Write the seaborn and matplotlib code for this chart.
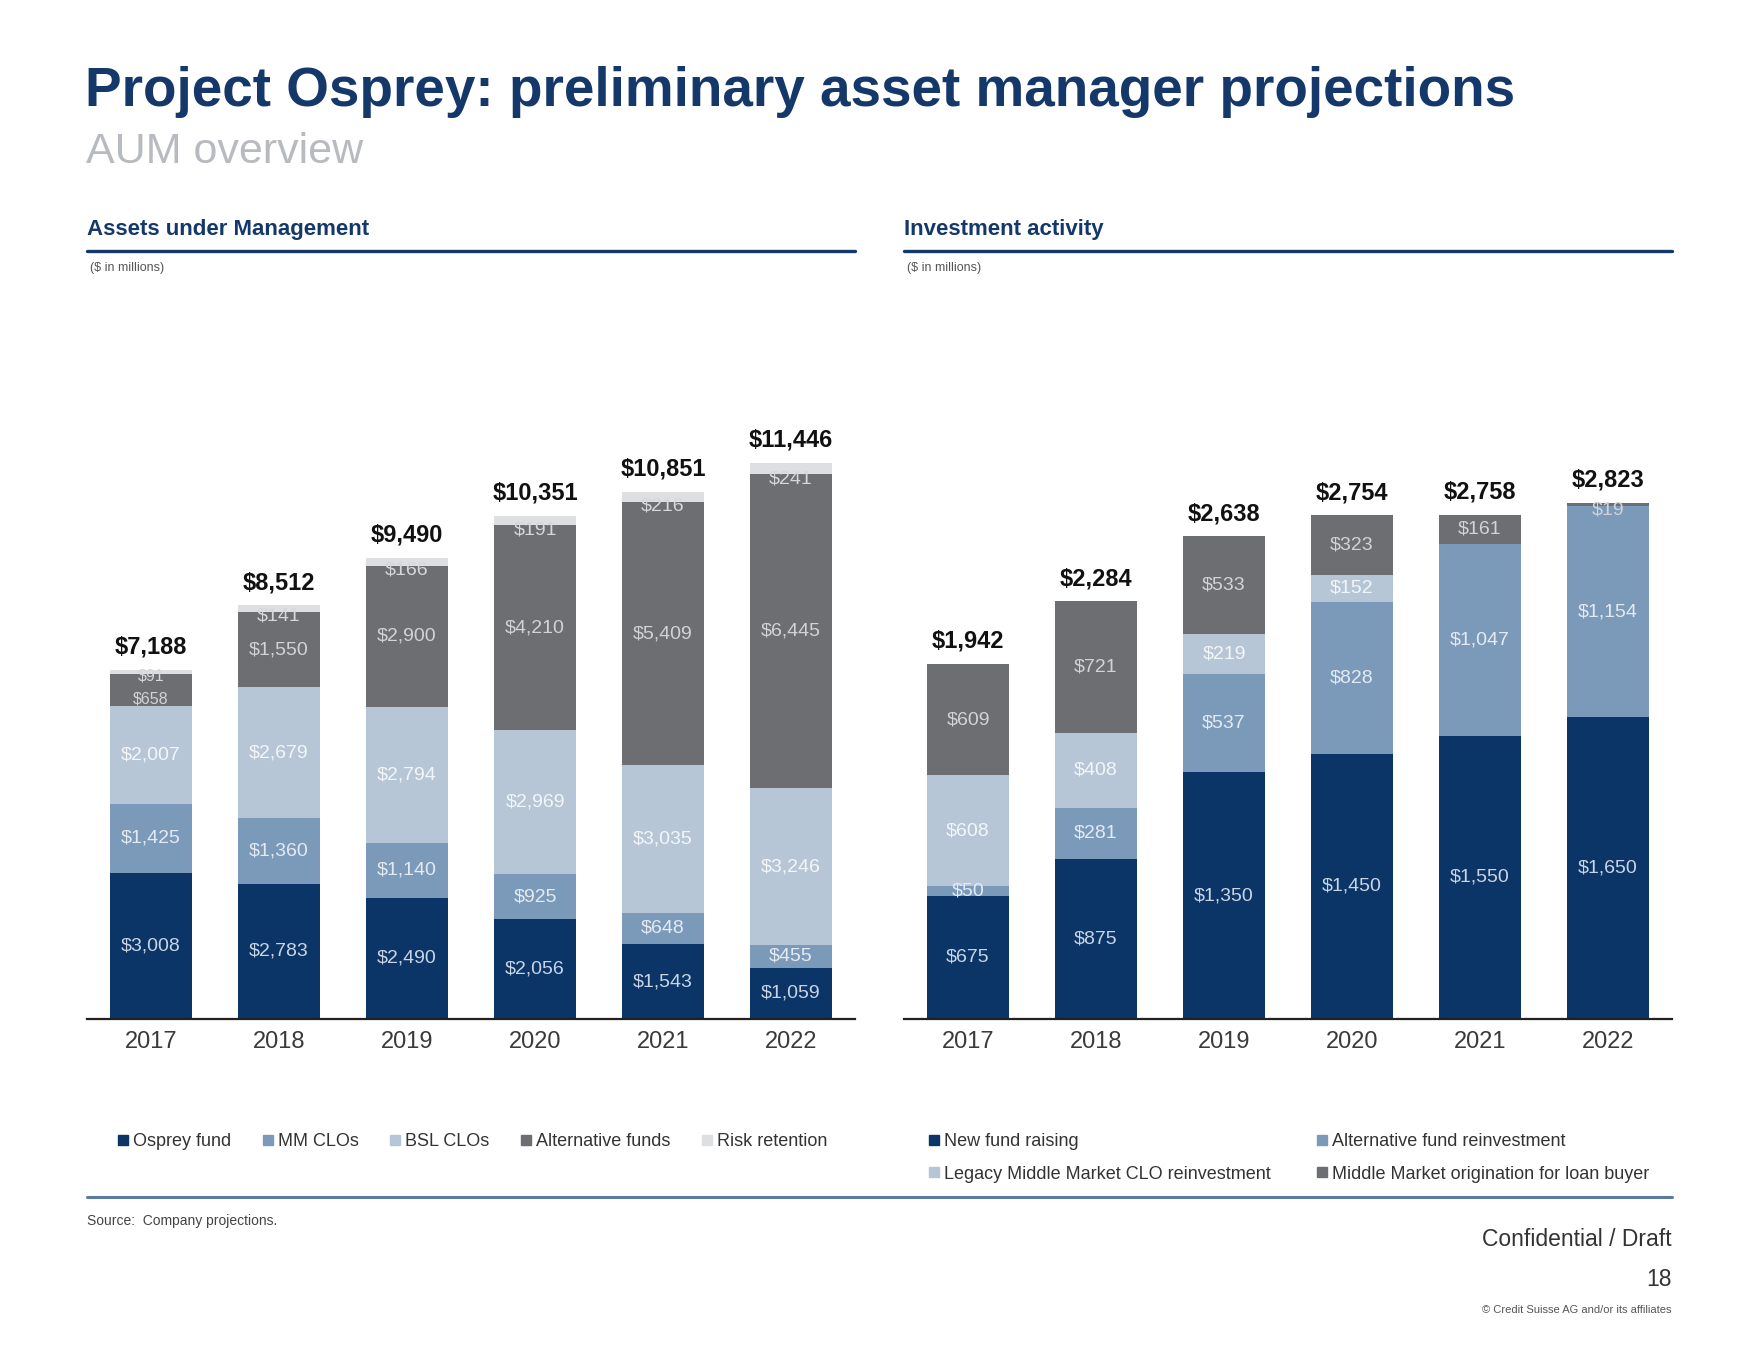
import matplotlib
matplotlib.use('Agg')

import numpy as np
import pandas as pd
import seaborn as sns
import matplotlib.pyplot as plt
from matplotlib.lines import Line2D

# --- data -------------------------------------------------------------
years = ['2017', '2018', '2019', '2020', '2021', '2022']

# Assets under Management ($ in millions)
osprey_fund = [3008, 2783, 2490, 2056, 1543, 1059]
mm_clos = [1425, 1360, 1140, 925, 648, 455]
bsl_clos = [2007, 2679, 2794, 2969, 3035, 3246]
alternative_funds = [658, 1550, 2900, 4210, 5409, 6445]
risk_retention = [91, 141, 166, 191, 216, 241]
aum_totals = [7188, 8512, 9490, 10351, 10851, 11446]

# Investment activity ($ in millions)
new_fund_raising = [675, 875, 1350, 1450, 1550, 1650]
alt_fund_reinvestment = [50, 281, 537, 828, 1047, 1154]
legacy_mm_clo_reinvestment = [608, 408, 219, 152, 0, 0]
mm_origination_loan_buyer = [609, 721, 533, 323, 161, 19]
activity_totals = [1942, 2284, 2638, 2754, 2758, 2823]

# --- style ------------------------------------------------------------
NAVY = '#0b3567'
MEDIUM = '#7b9aba'
LIGHT = '#b6c6d6'
GRAY = '#6c6e71'
RISK = '#dedfe1'
TITLE_NAVY = '#15386a'

sns.set_theme(style='white')
plt.rcParams['font.family'] = ['Liberation Sans', 'DejaVu Sans']

W, H = 1759, 1356
fig = plt.figure(figsize=(W / 100, H / 100), dpi=100)


def fx(px):
    return px / W


def fy(py):
    return 1 - py / H


def stacked(ax, layers, colors, ymax):
    """Stack layers bottom-up by overdrawing cumulative bars from the top down."""
    cum = np.cumsum(np.array(layers, dtype=float), axis=0)
    for k in range(len(layers) - 1, -1, -1):
        df = pd.DataFrame({'Year': years, 'Value': cum[k]})
        sns.barplot(data=df, x='Year', y='Value', color=colors[k], saturation=1,
                    width=0.64, errorbar=None, linewidth=0, ax=ax)
    ax.set_ylim(0, ymax)
    ax.set_xlabel('')
    ax.set_ylabel('')
    ax.set_yticks([])
    for s in ['left', 'right', 'top']:
        ax.spines[s].set_visible(False)
    ax.spines['bottom'].set_color('#222222')
    ax.spines['bottom'].set_linewidth(1.6)
    ax.tick_params(axis='x', length=0, pad=9, labelsize=17, labelcolor='#3a3a3a')
    return cum


def seg_labels(ax, values, bottoms, color, mode='center', small=None):
    for i, v in enumerate(values):
        if v <= 0:
            continue
        b = bottoms[i]
        txt = f'${v:,}'
        tight = small is not None and small[i]
        size = 11.5 if tight else 14
        if mode == 'thin_top':
            # thin top slice: label hangs just under the slice, inside the segment below
            if tight:
                ax.annotate(txt, xy=(i, b + v), xytext=(0, 1), textcoords='offset points',
                            ha='center', va='top', fontsize=size, color=color)
            else:
                ax.annotate(txt, xy=(i, b), xytext=(0, 3), textcoords='offset points',
                            ha='center', va='top', fontsize=size, color=color)
        elif tight:
            ax.annotate(txt, xy=(i, b), xytext=(0, 0), textcoords='offset points',
                        ha='center', va='bottom', fontsize=size, color=color)
        elif v < 30:
            ax.annotate(txt, xy=(i, b + v), xytext=(0, 1), textcoords='offset points',
                        ha='center', va='top', fontsize=size, color=color)
        else:
            ax.text(i, b + v / 2, txt, ha='center', va='center', fontsize=size, color=color)


def total_labels(ax, totals):
    for i, t in enumerate(totals):
        ax.annotate(f'${t:,}', xy=(i, t), xytext=(0, 8), textcoords='offset points',
                    ha='center', va='bottom', fontsize=17, fontweight='bold', color='#111111')


# --- left chart: Assets under Management -----------------------------
ax1 = fig.add_axes([fx(87), fy(1019), fx(855) - fx(87), (1019 - 420) / H])
aum_layers = [osprey_fund, mm_clos, bsl_clos, alternative_funds, risk_retention]
aum_colors = [NAVY, MEDIUM, LIGHT, GRAY, RISK]
cum1 = stacked(ax1, aum_layers, aum_colors, 12325)
bottoms1 = np.vstack([np.zeros(len(years)), cum1[:-1]])
tight_alt = [v < 800 for v in alternative_funds]
seg_labels(ax1, osprey_fund, bottoms1[0], '#c9d5e4')
seg_labels(ax1, mm_clos, bottoms1[1], '#e3eaf2')
seg_labels(ax1, bsl_clos, bottoms1[2], '#f3f6f9')
seg_labels(ax1, alternative_funds, bottoms1[3], '#d2d3d5', small=tight_alt)
seg_labels(ax1, risk_retention, bottoms1[4], '#d6d7d9', mode='thin_top', small=tight_alt)
total_labels(ax1, aum_totals)

# --- right chart: Investment activity ---------------------------------
ax2 = fig.add_axes([fx(904), fy(1019), fx(1672) - fx(904), (1019 - 420) / H])
act_layers = [new_fund_raising, alt_fund_reinvestment, legacy_mm_clo_reinvestment,
              mm_origination_loan_buyer]
act_colors = [NAVY, MEDIUM, LIGHT, GRAY]
cum2 = stacked(ax2, act_layers, act_colors, 3275)
bottoms2 = np.vstack([np.zeros(len(years)), cum2[:-1]])
seg_labels(ax2, new_fund_raising, bottoms2[0], '#c9d5e4')
seg_labels(ax2, alt_fund_reinvestment, bottoms2[1], '#e3eaf2')
seg_labels(ax2, legacy_mm_clo_reinvestment, bottoms2[2], '#f3f6f9')
seg_labels(ax2, mm_origination_loan_buyer, bottoms2[3], '#d2d3d5')
total_labels(ax2, activity_totals)

# --- titles and rules -------------------------------------------------
fig.text(fx(85), fy(92), 'Project Osprey: preliminary asset manager projections',
         fontsize=39.5, fontweight='bold', color=TITLE_NAVY, va='center', ha='left')
fig.text(fx(86), fy(152), 'AUM overview', fontsize=31, color='#b7bbc0',
         va='center', ha='left')

for x0, x1, head in [(87, 855, 'Assets under Management'), (904, 1672, 'Investment activity')]:
    fig.text(fx(x0), fy(230), head, fontsize=16, fontweight='bold', color=TITLE_NAVY,
             va='center', ha='left')
    fig.add_artist(Line2D([fx(x0), fx(x1)], [fy(251), fy(251)], transform=fig.transFigure,
                          color=TITLE_NAVY, linewidth=2.4))
    fig.text(fx(x0 + 3), fy(268), '($ in millions)', fontsize=9, color='#555555',
             va='center', ha='left')

# bottom rule and footer
fig.add_artist(Line2D([fx(87), fx(1672)], [fy(1197), fy(1197)], transform=fig.transFigure,
                      color='#5b7ba3', linewidth=2.2))
fig.text(fx(87), fy(1221), 'Source:  Company projections.', fontsize=10, color='#444444',
         va='center', ha='left')
fig.text(fx(1672), fy(1240), 'Confidential / Draft', fontsize=16.5, color='#333333',
         va='center', ha='right')
fig.text(fx(1672), fy(1280), '18', fontsize=16.5, color='#333333', va='center', ha='right')
fig.text(fx(1672), fy(1310), '\u00a9 Credit Suisse AG and/or its affiliates', fontsize=8,
         color='#555555', va='center', ha='right')


# --- legends ----------------------------------------------------------
def square(c):
    return Line2D([], [], marker='s', linestyle='', color=c, markersize=6.5)


left_names = ['Osprey fund', 'MM CLOs', 'BSL CLOs', 'Alternative funds', 'Risk retention']
fig.legend([square(c) for c in aum_colors], left_names, loc='center left',
           bbox_to_anchor=(fx(118), fy(1142)), ncol=5, frameon=False, fontsize=13,
           handlelength=0.6, handletextpad=0.25, columnspacing=1.72, borderpad=0,
           borderaxespad=0, labelcolor='#333333')

right_handles = [square(NAVY), square(LIGHT), square(MEDIUM), square(GRAY)]
right_names = ['New fund raising', 'Legacy Middle Market CLO reinvestment',
               'Alternative fund reinvestment', 'Middle Market origination for loan buyer']
fig.legend(right_handles, right_names, loc='center left',
           bbox_to_anchor=(fx(929), fy(1158)), ncol=2, frameon=False, fontsize=13,
           handlelength=0.6, handletextpad=0.25, columnspacing=2.5, labelspacing=0.85,
           borderpad=0, borderaxespad=0, labelcolor='#333333')

fig.savefig('out.png', dpi=100)
